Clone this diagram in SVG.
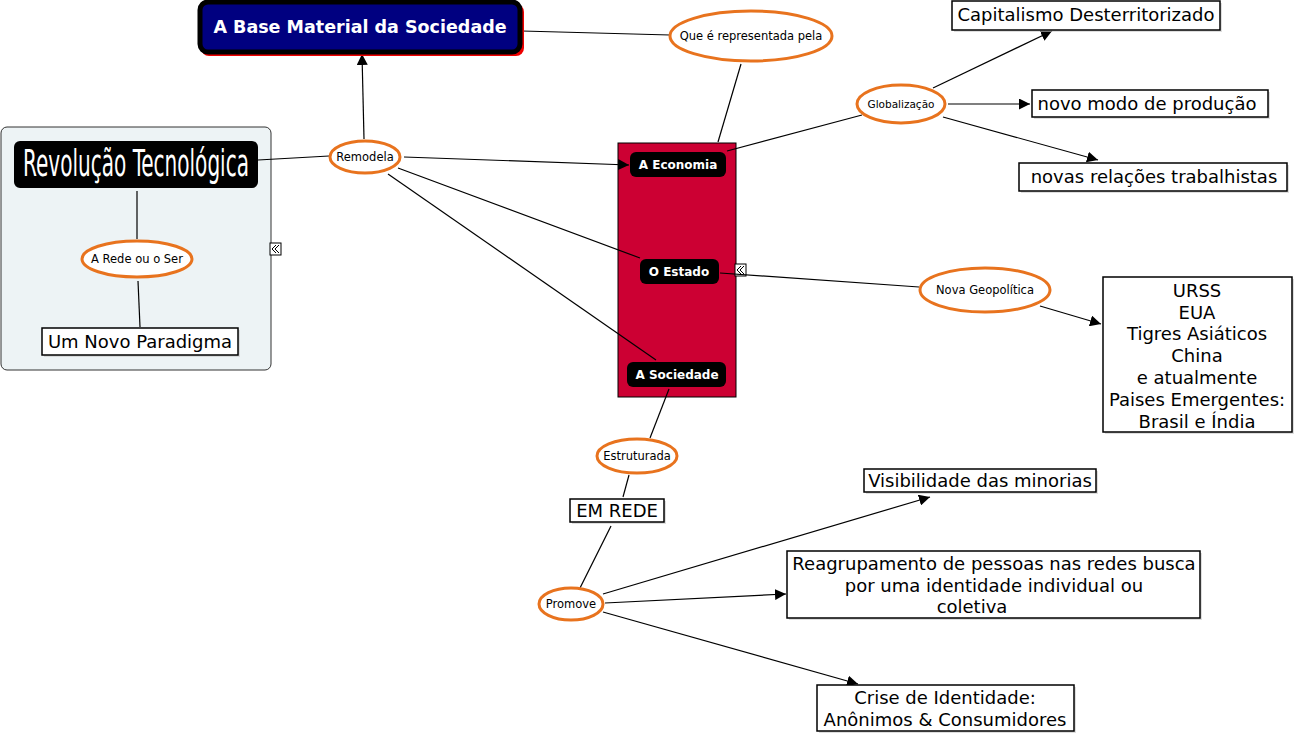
<svg xmlns="http://www.w3.org/2000/svg" width="1298" height="737" viewBox="0 0 1298 737">
<style>
text{font-family:"DejaVu Sans","Verdana",sans-serif;fill:#000}
.lbl{font-size:11.5px;text-anchor:middle}
.ell{fill:#fff;stroke:#E8731E;stroke-width:3}
.box{fill:#fff;stroke:#000;stroke-width:1.5}
.shd{fill:#c8c8c8;opacity:0.6}
.bt{font-size:18px;text-anchor:middle}
.blk{fill:#000}
.wb{fill:#fff;font-weight:bold;font-size:12px;text-anchor:middle}
.ln{stroke:#000;stroke-width:1.2;fill:none}
.ar{stroke:#000;stroke-width:1.2;fill:none;marker-end:url(#arr)}
</style>
<defs>
<marker id="arr" viewBox="0 0 10 10" refX="10" refY="5" markerWidth="11" markerHeight="11" markerUnits="userSpaceOnUse" orient="auto">
<path d="M0,0 L10,5 L0,10 z" fill="#000"/>
</marker>
</defs>
<g id="n-panel">
<rect x="1" y="127" width="270" height="243" rx="6" fill="#EDF3F5" stroke="#333" stroke-width="1"/>
<rect x="270" y="243" width="11" height="12" fill="#fff" stroke="#000" stroke-width="1"/>
<path d="M276,245 L272,249 L276,253 M279,245 L275,249 L279,253" fill="none" stroke="#000" stroke-width="1"/>
</g>
<g id="n-redbox">
<rect x="618" y="143" width="118" height="254" fill="#CC0033" stroke="#000" stroke-width="1"/>
<rect x="735" y="264" width="11" height="12" fill="#fff" stroke="#000" stroke-width="1"/>
<path d="M741,266 L737,270 L741,274 M744,266 L740,270 L744,274" fill="none" stroke="#000" stroke-width="1"/>
</g>
<g id="connectors">
<line class="ln" x1="522" y1="31" x2="670" y2="35"/>
<line class="ln" x1="741" y1="64" x2="718" y2="142"/>
<line class="ln" x1="727" y1="151" x2="862" y2="115"/>
<line class="ar" x1="933" y1="88" x2="1052" y2="31"/>
<line class="ar" x1="948" y1="104" x2="1030" y2="104"/>
<line class="ar" x1="943" y1="117" x2="1098" y2="160"/>
<line class="ln" x1="258" y1="160" x2="329" y2="156"/>
<line class="ln" x1="137" y1="191" x2="137" y2="239"/>
<line class="ln" x1="138" y1="281" x2="140" y2="327"/>
<line class="ar" x1="364" y1="139" x2="362" y2="54"/>
<line class="ar" x1="404" y1="157" x2="629" y2="165"/>
<line class="ln" x1="398" y1="168" x2="640" y2="258"/>
<line class="ln" x1="388" y1="174" x2="656" y2="360"/>
<line class="ln" x1="720" y1="273" x2="919" y2="287"/>
<line class="ar" x1="1040" y1="306" x2="1101" y2="324"/>
<line class="ln" x1="669" y1="389" x2="650" y2="438"/>
<line class="ln" x1="629" y1="475" x2="623" y2="497"/>
<line class="ln" x1="611" y1="526" x2="580" y2="588"/>
<line class="ar" x1="603" y1="594" x2="930" y2="497"/>
<line class="ar" x1="605" y1="603" x2="786" y2="594"/>
<line class="ar" x1="603" y1="612" x2="858" y2="684"/>
</g>
<g id="n-revolucao">
<rect x="14" y="141" width="244" height="47" rx="6" class="blk"/>
<g transform="translate(136,176) scale(0.55,1)">
<text x="0" y="0" font-size="38" text-anchor="middle" textLength="411" lengthAdjust="spacingAndGlyphs" style="fill:#fff;font-weight:200;font-family:'DejaVu Sans Condensed','DejaVu Sans',sans-serif">Revolução Tecnológica</text>
</g>
</g>
<g id="n-arede">
<ellipse cx="137" cy="259" rx="55" ry="18" class="ell"/>
<text x="137" y="263" class="lbl">A Rede ou o Ser</text>
</g>
<g id="n-paradigma">
<rect x="44" y="330" width="196" height="27" class="shd"/>
<rect x="42" y="328" width="196" height="27" class="box"/>
<text x="140" y="348" class="bt">Um Novo Paradigma</text>
</g>
<g id="n-base">
<rect x="201" y="4" width="323" height="52" rx="8" fill="#e00"/>
<rect x="200" y="2" width="320" height="50" rx="8" fill="#000080" stroke="#000" stroke-width="5"/>
<text x="360" y="33" text-anchor="middle" font-size="17.5" font-weight="bold" style="fill:#fff">A Base Material da Sociedade</text>
</g>
<g id="n-representada">
<ellipse cx="751" cy="36" rx="81" ry="25" class="ell"/>
<text x="751" y="40" class="lbl">Que é representada pela</text>
</g>
<g id="n-remodela">
<ellipse cx="365" cy="157" rx="35" ry="16" class="ell"/>
<text x="365" y="161" class="lbl">Remodela</text>
</g>
<g id="n-economia">
<rect x="630" y="152" width="96" height="25" rx="6" class="blk"/>
<text x="678" y="169" class="wb">A Economia</text>
</g>
<g id="n-estado">
<rect x="640" y="259" width="79" height="25" rx="6" class="blk"/>
<text x="679" y="276" class="wb">O Estado</text>
</g>
<g id="n-sociedade">
<rect x="627" y="362" width="99" height="25" rx="6" class="blk"/>
<text x="677" y="379" class="wb">A Sociedade</text>
</g>
<g id="n-globalizacao">
<ellipse cx="901" cy="104" rx="44" ry="19" class="ell"/>
<text x="901" y="108" class="lbl" style="font-size:10.5px">Globalização</text>
</g>
<g id="n-capitalismo">
<rect x="954" y="3" width="268" height="29" class="shd"/>
<rect x="952" y="1" width="268" height="29" class="box"/>
<text x="1086" y="21" class="bt">Capitalismo Desterritorizado</text>
</g>
<g id="n-novomodo">
<rect x="1034" y="92" width="236" height="27" class="shd"/>
<rect x="1032" y="90" width="236" height="27" class="box"/>
<text x="1147" y="110" class="bt">novo modo de produção</text>
</g>
<g id="n-novasrel">
<rect x="1021" y="165" width="268" height="28" class="shd"/>
<rect x="1019" y="163" width="268" height="28" class="box"/>
<text x="1154" y="183" class="bt">novas relações trabalhistas</text>
</g>
<g id="n-geopolitica">
<ellipse cx="985" cy="290" rx="65" ry="22" class="ell"/>
<text x="985" y="294" class="lbl">Nova Geopolítica</text>
</g>
<g id="n-paises">
<rect x="1105" y="279" width="189" height="155" class="shd"/>
<rect x="1103" y="277" width="189" height="155" class="box"/>
<text x="1197" y="297" class="bt">URSS</text>
<text x="1197" y="319" class="bt">EUA</text>
<text x="1197" y="340" class="bt">Tigres Asiáticos</text>
<text x="1197" y="362" class="bt">China</text>
<text x="1197" y="384" class="bt">e atualmente</text>
<text x="1197" y="406" class="bt">Paises Emergentes:</text>
<text x="1197" y="428" class="bt">Brasil e Índia</text>
</g>
<g id="n-estruturada">
<ellipse cx="637" cy="456" rx="40" ry="17" class="ell"/>
<text x="637" y="460" class="lbl">Estruturada</text>
</g>
<g id="n-emrede">
<rect x="572" y="501" width="94" height="23" class="shd"/>
<rect x="570" y="499" width="94" height="23" class="box"/>
<text x="617" y="517" class="bt">EM REDE</text>
</g>
<g id="n-promove">
<ellipse cx="571" cy="604" rx="32" ry="16" class="ell"/>
<text x="571" y="608" class="lbl">Promove</text>
</g>
<g id="n-visibilidade">
<rect x="866" y="471" width="232" height="23" class="shd"/>
<rect x="864" y="469" width="232" height="23" class="box"/>
<text x="980" y="487" class="bt">Visibilidade das minorias</text>
</g>
<g id="n-reagrupamento">
<rect x="789" y="553" width="413" height="67" class="shd"/>
<rect x="787" y="551" width="413" height="67" class="box"/>
<text x="994" y="570" class="bt">Reagrupamento de pessoas nas redes busca</text>
<text x="994" y="592" class="bt">por uma identidade individual ou</text>
<text x="972" y="613" class="bt">coletiva</text>
</g>
<g id="n-crise">
<rect x="819" y="687" width="257" height="46" class="shd"/>
<rect x="817" y="685" width="257" height="46" class="box"/>
<text x="945" y="704" class="bt">Crise de Identidade:</text>
<text x="945" y="726" class="bt">Anônimos &amp; Consumidores</text>
</g>
</svg>
